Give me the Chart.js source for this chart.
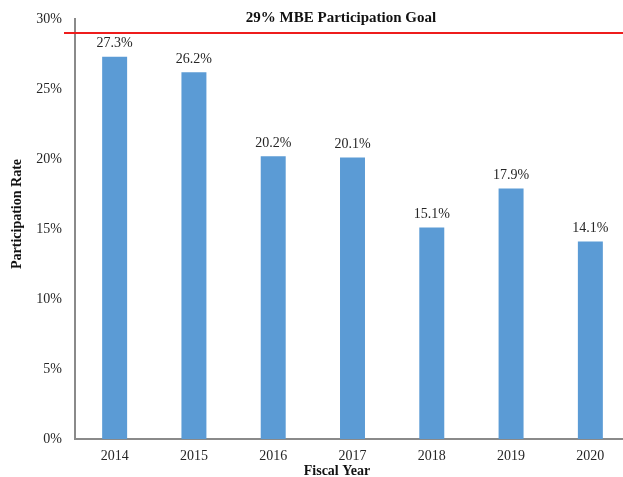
<!DOCTYPE html>
<html>
<head>
<meta charset="utf-8">
<script src="https://cdn.jsdelivr.net/npm/chart.js@4"></script>
<style>
  html, body { margin: 0; padding: 0; background: #fff; overflow: hidden; }
  #wrap { width: 623px; height: 477px; overflow: hidden; }
</style>
</head>
<body>
<div id="wrap"><canvas id="chart" width="633" height="477"></canvas></div>
<script>
const years = ["2014", "2015", "2016", "2017", "2018", "2019", "2020"];
const rates = [27.3, 26.2, 20.2, 20.1, 15.1, 17.9, 14.1];
const goalRate = 29;
const goalLabel = "29% MBE Participation Goal";
const yTicks = [0, 5, 10, 15, 20, 25, 30];

const SERIF = "'Liberation Serif', 'Times New Roman', serif";
const BAR_COLOR = "#5B9BD5";
const TEXT = "#262626";

// goal line, bar labels and axis titles
const overlay = {
  id: "overlay",
  afterDatasetsDraw(chart) {
    const { ctx, chartArea, scales } = chart;
    const y = scales.y.getPixelForValue(goalRate);
    ctx.save();
    ctx.strokeStyle = "#EE1C1C";
    ctx.lineWidth = 2;
    ctx.beginPath();
    ctx.moveTo(chartArea.left - 11, y);
    ctx.lineTo(chart.width, y);
    ctx.stroke();

    ctx.fillStyle = "#111";
    ctx.font = `bold 15px ${SERIF}`;
    ctx.textAlign = "center";
    ctx.textBaseline = "alphabetic";
    ctx.fillText(goalLabel, 341, 22);

    ctx.fillStyle = TEXT;
    ctx.font = `14px ${SERIF}`;
    ctx.textBaseline = "bottom";
    chart.getDatasetMeta(0).data.forEach((bar, i) => {
      ctx.fillText(rates[i].toFixed(1) + "%", bar.x, bar.y - 6);
    });

    ctx.fillStyle = "#111";
    ctx.font = `bold 14px ${SERIF}`;
    ctx.textBaseline = "middle";
    ctx.fillText("Fiscal Year", 337, 471);
    ctx.translate(17, 214);
    ctx.rotate(-Math.PI / 2);
    ctx.fillText("Participation Rate", 0, 0);
    ctx.restore();
  },
};

new Chart(document.getElementById("chart"), {
  type: "bar",
  data: {
    labels: years,
    datasets: [{
      data: rates,
      backgroundColor: BAR_COLOR,
      borderWidth: 0,
      categoryPercentage: 1,
      barPercentage: 0.315,
    }],
  },
  options: {
    responsive: false,
    animation: false,
    layout: { padding: { top: 19, right: 3, left: 0, bottom: 0 } },
    plugins: { legend: { display: false }, tooltip: { enabled: false } },
    scales: {
      x: {
        grid: { display: false },
        border: { display: true, color: "#8A8A8A", width: 2 },
        ticks: { color: TEXT, font: { family: SERIF, size: 14 }, padding: 1 },
        afterFit: (scale) => { scale.height = 38; },
      },
      y: {
        min: 0,
        max: 30,
        afterBuildTicks: (scale) => { scale.ticks = yTicks.map((v) => ({ value: v })); },
        grid: { display: false },
        border: { display: true, color: "#8A8A8A", width: 2 },
        ticks: {
          color: TEXT,
          font: { family: SERIF, size: 14 },
          padding: 5,
          callback: (v) => v + "%",
        },
        afterFit: (scale) => { scale.width = 75; },
      },
    },
  },
  plugins: [overlay],
});
</script>
</body>
</html>
